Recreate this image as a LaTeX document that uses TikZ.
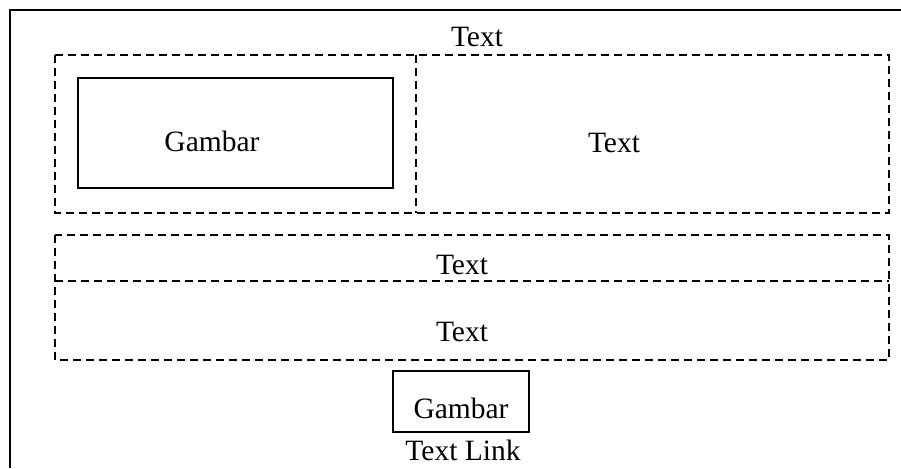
\documentclass[tikz,border=0pt]{standalone}
\usepackage{fontspec}
\setmainfont{Liberation Serif}
\begin{document}
\begin{tikzpicture}[x=1pt,y=-1pt,
  frame/.style={line width=2.6pt},
  solidbox/.style={line width=2pt},
  dashbox/.style={line width=2pt, dash pattern=on 8pt off 5pt},
  lbl/.style={anchor=base, inner sep=0pt, font=\fontsize{29.5}{34}\selectfont}]
\useasboundingbox (0,0) rectangle (901,468);
% outer frame (clipped at right and bottom)
\coordinate (fbl) at (10,468);
\coordinate (ftl) at (10,10);
\coordinate (ftr) at (901,10);
\draw[frame] (fbl) -- (ftl) -- (ftr);
% top dashed box with divider
\draw[dashbox] (55,55) rectangle (889,213);
\draw[dashbox] (416,55) -- (416,213);
% inner picture box
\draw[solidbox] (78,78) rectangle (393,188);
% middle dashed boxes
\draw[dashbox] (55,235) rectangle (889,360);
\draw[dashbox] (55,281) -- (889,281);
% small picture box
\draw[solidbox] (393,371) rectangle (529,432);
% texts
\node[lbl] (t1) at (477,47) {Text};
\node[lbl] (g1) at (212,151) {Gambar};
\node[lbl] (t2) at (614,152) {Text};
\node[lbl] (t3) at (462,274) {Text};
\node[lbl] (t4) at (462,341) {Text};
\node[lbl] (g2) at (461,418) {Gambar};
\node[lbl] (tl) at (463,460) {Text Link};
\end{tikzpicture}
\end{document}
